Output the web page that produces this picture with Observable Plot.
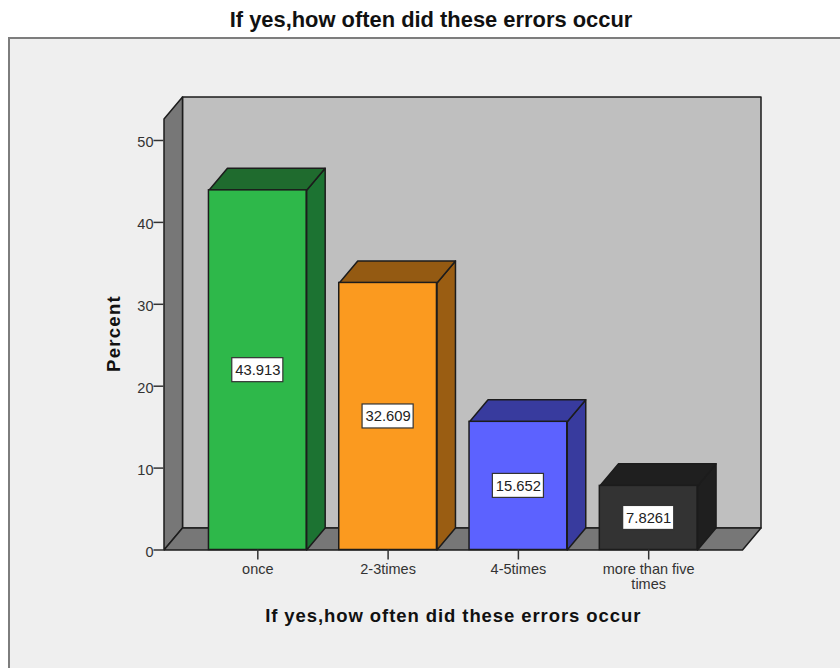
<!DOCTYPE html>
<html>
<head>
<meta charset="utf-8">
<script src="https://cdn.jsdelivr.net/npm/d3@7"></script>
<script src="https://cdn.jsdelivr.net/npm/@observablehq/plot@0.6"></script>
<style>
  html, body { margin: 0; padding: 0; background: #fff; }
  #page { position: relative; width: 840px; height: 668px; overflow: hidden; font-family: "Liberation Sans", Arial, sans-serif; }
  #title { position: absolute; left: 0; top: 8px; width: 862px; text-align: center; font-weight: bold; font-size: 21.9px; line-height: 24px; color: #111; }
  #panel { position: absolute; left: 8px; top: 37px; width: 900px; height: 700px; box-sizing: border-box; background: #efefef; border: 2px solid #7d7d7d; }
  #chart { position: absolute; left: 0; top: 0; }
  .x-title text { letter-spacing: 0.92px; }
  .y-title text { letter-spacing: 1.3px; }
</style>
</head>
<body>
<div id="page">
  <div id="title">If yes,how often did these errors occur</div>
  <div id="panel"></div>
  <div id="chart"></div>
</div>
<script>
// Survey responses
const categories = ["once", "2-3times", "4-5times", "more than five\ntimes"];
const percents = [43.913, 32.609, 15.652, 7.8261];
const valueLabels = ["43.913", "32.609", "15.652", "7.8261"];
const yTicks = [0, 10, 20, 30, 40, 50];

// Face shades of each bar
const frontColors = ["#2eb84a", "#fb9a1f", "#5c62ff", "#333333"];
const sideColors = ["#1c7332", "#9a5d12", "#383b9e", "#1f1f1f"];
const topColors = ["#1f6b2e", "#945a12", "#383b9e", "#1f1f1f"];

// Box geometry in scale units: x counts category slots, y counts percent
const barHalf = 0.375;
const depthX = 0.142;
const depthY = 2.69;
const floorStart = -0.72;
const floorEnd = 3.72;
const wallTop = 52.62;
const boxHalfX = 0.196;
const boxHalfY = 1.465;

const ink = "#1c1c1c";
const indices = categories.map((_, i) => i);

const polygon = (points, fill) => Plot.line(
  [...points, points[0]].map(([x, y]) => ({x, y})),
  {x: "x", y: "y", fill, stroke: ink, strokeWidth: 1.5, strokeLinejoin: "round"}
);

// Back wall, left wall and floor of the chart box
const walls = [
  polygon([[floorStart + depthX, depthY], [floorEnd + depthX, depthY], [floorEnd + depthX, wallTop + depthY], [floorStart + depthX, wallTop + depthY]], "#bfbfbf"),
  polygon([[floorStart, 0], [floorStart + depthX, depthY], [floorStart + depthX, wallTop + depthY], [floorStart, wallTop]], "#777777"),
  polygon([[floorStart, 0], [floorEnd, 0], [floorEnd + depthX, depthY], [floorStart + depthX, depthY]], "#777777")
];

// Side and top faces of every bar
const barFaces = indices.flatMap((i) => {
  const l = i - barHalf, r = i + barHalf, v = percents[i];
  return [
    polygon([[r, 0], [r + depthX, depthY], [r + depthX, v + depthY], [r, v]], sideColors[i]),
    polygon([[l, v], [r, v], [r + depthX, v + depthY], [l + depthX, v + depthY]], topColors[i])
  ];
});

const chart = Plot.plot({
  width: 840,
  height: 668,
  marginLeft: 163.5,
  marginRight: 79.5,
  marginTop: 96.5,
  marginBottom: 118.5,
  style: {background: "transparent", fontFamily: "'Liberation Sans', Arial, sans-serif", overflow: "visible"},
  x: {domain: [floorStart, floorEnd + depthX]},
  y: {domain: [0, wallTop + depthY]},
  marks: [
    ...walls,
    ...barFaces,
    Plot.rectY(indices, {
      x1: (i) => i - barHalf,
      x2: (i) => i + barHalf,
      y1: 0,
      y2: (i) => percents[i],
      fill: (i) => frontColors[i],
      stroke: ink,
      strokeWidth: 1.5
    }),
    // Value tags centred on each bar
    Plot.rect(indices, {
      x1: (i) => i - boxHalfX,
      x2: (i) => i + boxHalfX,
      y1: (i) => percents[i] / 2 - boxHalfY,
      y2: (i) => percents[i] / 2 + boxHalfY,
      fill: "#ffffff",
      stroke: "#333333",
      strokeWidth: 1.2
    }),
    Plot.text(indices, {
      x: (i) => i,
      y: (i) => percents[i] / 2,
      text: (i) => valueLabels[i],
      fontSize: 14.8,
      fill: "#222222"
    }),
    // Y ticks, with their numbers sitting slightly below the tick line
    Plot.axisY({
      ticks: yTicks,
      tickFormat: () => "",
      label: null,
      tickSize: 10,
      color: "#333333",
      strokeWidth: 1.5
    }),
    Plot.text(yTicks, {
      x: floorStart,
      y: (d) => d,
      text: (d) => String(d),
      textAnchor: "end",
      dx: -10.5,
      dy: 2,
      fontSize: 14.5,
      fill: "#333333"
    }),
    Plot.axisX({
      ticks: indices,
      tickFormat: (i) => categories[i],
      label: null,
      tickSize: 10,
      tickPadding: 3,
      fontSize: 14.5,
      lineHeight: 1.05,
      color: "#333333",
      strokeWidth: 1.5
    }),
    Plot.text(["Percent"], {
      className: "y-title",
      frameAnchor: "left",
      textAnchor: "middle",
      rotate: -90,
      dx: -49.5,
      dy: 10,
      fontSize: 18.5,
      fontWeight: "bold",
      fill: "#111111"
    }),
    Plot.text(["If yes,how often did these errors occur"], {
      className: "x-title",
      x: () => (floorStart + floorEnd) / 2,
      frameAnchor: "bottom",
      dy: 72,
      fontSize: 18.5,
      fontWeight: "bold",
      fill: "#111111"
    })
  ]
});

document.getElementById("chart").appendChild(chart);
</script>
</body>
</html>
